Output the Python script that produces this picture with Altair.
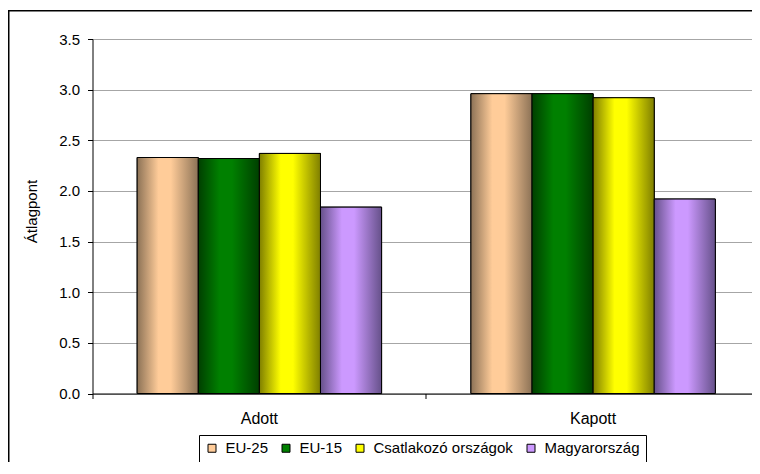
import altair as alt
import pandas as pd

categories = ["Adott", "Kapott"]
series = ["EU-25", "EU-15", "Csatlakozó országok", "Magyarország"]
adott = [2.33, 2.32, 2.37, 1.84]
kapott = [2.96, 2.96, 2.92, 1.92]
base_colors = ["#FFCC99", "#008000", "#FFFF00", "#CC99FF"]
dark_colors = ["#8C7256", "#003F00", "#7F7F00", "#66518A"]
y_ticks = [0, 0.5, 1.0, 1.5, 2.0, 2.5, 3.0, 3.5]

rows = []
for cat, vals in zip(categories, [adott, kapott]):
    for s, v in zip(series, vals):
        rows.append({"category": cat, "series": s, "value": v})
df = pd.DataFrame(rows)

FONT = "Liberation Sans"
W, H = 659.5, 354.5
XR = 667.5

x_enc = alt.X("category:N", sort=categories,
              scale=alt.Scale(paddingInner=0, paddingOuter=0, range=[0, XR]),
              axis=alt.Axis(title=None, labelAngle=0, bandPosition=0, tickSize=5,
                            tickColor="black", domainColor="black", labelFontSize=16,
                            labelFont=FONT, labelColor="black", labelPadding=12, grid=False))
xo_enc = alt.XOffset("series:N", sort=series,
                     scale=alt.Scale(domain=series, paddingInner=0, paddingOuter=0.731))
y_enc = alt.Y("value:Q", scale=alt.Scale(domain=[0, 3.5], nice=False),
              axis=alt.Axis(values=y_ticks, format=".1f", tickSize=5, tickColor="black",
                            domainColor="black", gridColor="#A6A6A6", labelFontSize=15,
                            labelFont=FONT, labelColor="black", labelPadding=8,
                            title="Átlagpont", titleFont=FONT, titleFontSize=15,
                            titleFontWeight="normal", titleColor="black",
                            titleAngle=270, titleX=-61.5, titleY=172,
                            titleAlign="center", titleBaseline="middle"))

base = alt.Chart(df).encode(x=x_enc, xOffset=xo_enc, y=y_enc)

legend_layer = base.mark_bar(stroke="black", strokeWidth=1).encode(
    color=alt.Color("series:N", sort=series,
                    scale=alt.Scale(domain=series, range=base_colors),
                    legend=alt.Legend(title=None, orient="none", legendX=106.5, legendY=396,
                                      direction="horizontal", columns=4,
                                      strokeColor="black", fillColor="white", padding=5.5,
                                      symbolType="square", symbolSize=64,
                                      symbolStrokeColor="black", symbolStrokeWidth=1,
                                      labelFont=FONT, labelFontSize=15, labelColor="black",
                                      labelOffset=6, columnPadding=10))
)

layers = [legend_layer]
for s, c, d in zip(series, base_colors, dark_colors):
    grad = alt.Gradient(
        gradient="linear", x1=0, x2=1, y1=0, y2=0,
        stops=[alt.GradientStop(color=d, offset=0),
               alt.GradientStop(color=c, offset=0.35),
               alt.GradientStop(color=c, offset=0.55),
               alt.GradientStop(color=d, offset=1)])
    layers.append(
        base.transform_filter(alt.datum.series == s)
        .mark_bar(fill=grad, stroke="black", strokeWidth=1)
    )

one = pd.DataFrame({"a": [0]})
frame_left = alt.Chart(one).mark_rule(color="black", strokeWidth=1.5).encode(
    x=alt.value(-83.75), y=alt.value(-29), y2=alt.value(H + 200))
frame_top = alt.Chart(one).mark_rule(color="black", strokeWidth=1.5).encode(
    y=alt.value(-28.25), x=alt.value(-84.5), x2=alt.value(W))

chart = alt.layer(frame_left, frame_top, *layers).properties(
    width=W, height=H,
    autosize=alt.AutoSizeParams(type="none"),
    padding={"left": 84.5, "top": 31, "right": 0, "bottom": 68},
    background="white",
).configure_view(strokeWidth=0)

chart.save("out.html", embed_options={"renderer": "svg", "actions": False})
